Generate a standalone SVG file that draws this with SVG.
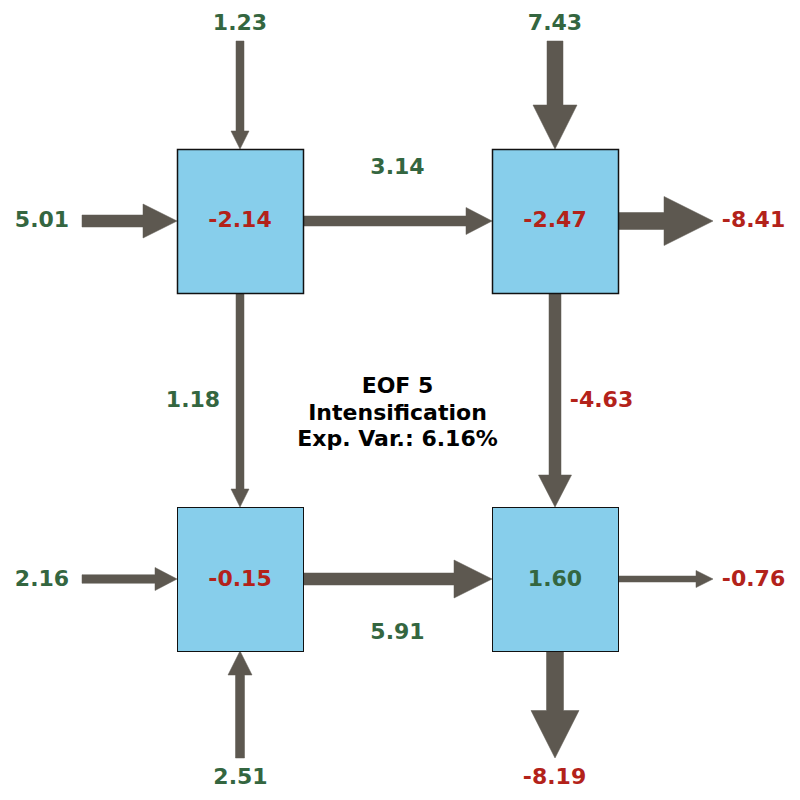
<svg xmlns="http://www.w3.org/2000/svg" width="800" height="800" viewBox="0 0 800 800">
<style>
.box{fill:#87ceeb;stroke:#111;}
.thick{stroke-width:1.5;}
.thin{stroke-width:1;}
.arr{fill:#5d5850;stroke:#5d5850;stroke-width:0.5;}
text{font-family:"DejaVu Sans",sans-serif;font-weight:bold;font-size:22px;text-anchor:middle;}
.g{fill:#346640;}
.r{fill:#b3221a;}
.k{fill:#000;}
</style>
<rect width="800" height="800" fill="#fff"/>
<g id="connectors">
<polygon class="arr" points="236,41 244,41 244,131 249,131 240,149 231,131 236,131"/>
<polygon class="arr" points="547,41 563,41 563,105 577,105 555,149 533,105 547,105"/>
<polygon class="arr" points="82,215 143,215 143,204 177,221 143,238 143,227 82,227"/>
<polygon class="arr" points="303,216 466,216 466,207.5 492,221 466,234.5 466,226 303,226"/>
<polygon class="arr" points="618,212.5 664,212.5 664,196.5 713,221 664,245.5 664,229.5 618,229.5"/>
<polygon class="arr" points="236,293 244,293 244,489 249,489 240,507 231,489 236,489"/>
<polygon class="arr" points="549,293 561,293 561,475 571.5,475 555,507 538.5,475 549,475"/>
<polygon class="arr" points="82,574.75 155,574.75 155,567.5 177,579 155,590.5 155,583.25 82,583.25"/>
<polygon class="arr" points="303,573 454,573 454,560 492,579 454,598 454,585 303,585"/>
<polygon class="arr" points="618,576 696,576 696,570.5 713,579 696,587.5 696,582 618,582"/>
<polygon class="arr" points="235.5,758 244.5,758 244.5,675 252,675 240,651 228,675 235.5,675"/>
<polygon class="arr" points="546.5,651 563.5,651 563.5,710.5 579,710.5 555,758 531,710.5 546.5,710.5"/>
</g>
<g id="node-tl"><rect class="box thick" x="177.5" y="149.5" width="126" height="144"/><text class="r" x="240" y="227">-2.14</text></g>
<g id="node-tr"><rect class="box thick" x="492.5" y="149.5" width="126" height="144"/><text class="r" x="555" y="227">-2.47</text></g>
<g id="node-bl"><rect class="box thin" x="177.5" y="507.5" width="126" height="144"/><text class="r" x="240" y="586">-0.15</text></g>
<g id="node-br"><rect class="box thin" x="492.5" y="507.5" width="126" height="144"/><text class="g" x="555" y="586">1.60</text></g>
<g id="labels">
<text class="g" x="240" y="30">1.23</text>
<text class="g" x="555" y="30">7.43</text>
<text class="g" x="42" y="227">5.01</text>
<text class="g" x="397.5" y="174">3.14</text>
<text class="r" x="753.5" y="227">-8.41</text>
<text class="g" x="193" y="407">1.18</text>
<text class="r" x="601.5" y="407">-4.63</text>
<text class="g" x="42" y="586">2.16</text>
<text class="g" x="397.5" y="639">5.91</text>
<text class="r" x="753.5" y="586">-0.76</text>
<text class="g" x="240.5" y="783.5">2.51</text>
<text class="r" x="554.5" y="783.5">-8.19</text>
</g>
<g id="title">
<text class="k" x="397.5" y="393">EOF 5</text>
<text class="k" x="397.5" y="419.7">Intensification</text>
<text class="k" x="397.5" y="446.4">Exp. Var.: 6.16%</text>
</g>
</svg>
